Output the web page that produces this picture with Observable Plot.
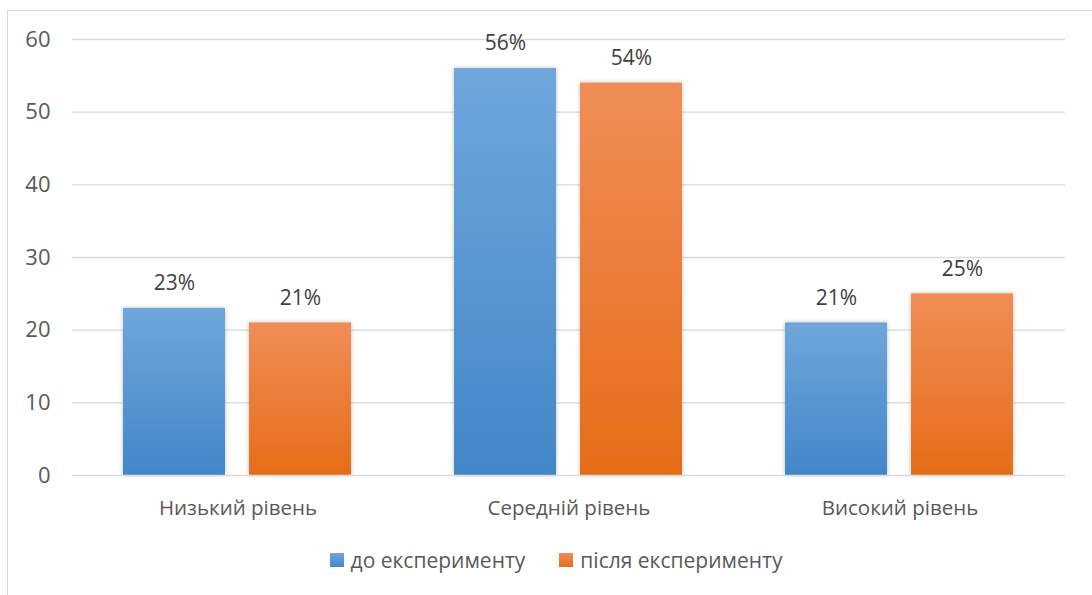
<!DOCTYPE html>
<html>
<head>
<meta charset="utf-8">
<script src="https://cdn.jsdelivr.net/npm/d3@7"></script>
<script src="https://cdn.jsdelivr.net/npm/@observablehq/plot@0.6"></script>
<style>
  html, body { margin: 0; padding: 0; background: #fff; }
  body { width: 1092px; height: 595px; position: relative; overflow: hidden; font-family: "Open Sans", sans-serif; }
  #frame { position: absolute; left: 7px; top: 10px; width: 1200px; height: 700px; border-left: 1.5px solid #d9d9d9; border-top: 1.5px solid #d9d9d9; }
  #chart { position: absolute; left: 0; top: 0; }
  #legend { position: absolute; top: 546px; left: 0; width: 1112px; display: flex; justify-content: center; gap: 34px; font-size: 21px; color: #595959; }
  .item { display: flex; align-items: center; gap: 7px; }
  .sw { width: 14px; height: 14px; display: inline-block; }
</style>
</head>
<body>
<div id="frame"></div>
<div id="chart"></div>
<div id="legend"></div>
<script>
const categories = ["Низький рівень", "Середній рівень", "Високий рівень"];
const series = ["до експерименту", "після експерименту"];
const before = [23, 56, 21];
const after = [21, 54, 25];
const yTicks = [0, 10, 20, 30, 40, 50, 60];

const data = [];
categories.forEach((c, i) => {
  data.push({category: c, series: series[0], value: before[i]});
  data.push({category: c, series: series[1], value: after[i]});
});

const gradIds = {"до експерименту": "url(#gBlue)", "після експерименту": "url(#gOrange)"};

const chart = Plot.plot({
  width: 1092,
  height: 530,
  marginLeft: 71,
  marginRight: 26,
  marginTop: 39,
  marginBottom: 55,
  style: {fontFamily: "Open Sans, sans-serif", color: "#595959", background: "transparent"},
  fx: {domain: categories, padding: 0, label: null},
  x: {domain: series, paddingInner: 0.189, paddingOuter: 0.4, axis: null},
  y: {domain: [0, 60], label: null},
  marks: [
    Plot.ruleY(yTicks.filter(d => d > 0), {stroke: "#d9d9d9", strokeWidth: 1.3}),
    Plot.axisY(yTicks, {tickSize: 0, tickPadding: 22, fontSize: 22, fill: "#595959", label: null}),
    Plot.axisFx({anchor: "bottom", tickSize: 0, tickPadding: 25, fontSize: 20.5, fill: "#595959", label: null}),
    Plot.barY(data, {fx: "category", x: "series", y: "value", fill: d => gradIds[d.series]}),
    Plot.ruleY([0], {stroke: "#d9d9d9", strokeWidth: 1.5}),
    Plot.text(data, {fx: "category", x: "series", y: "value", text: d => d.value + "%", dy: -25, fill: "#404040", fontSize: 21})
  ]
});

// gradients & shadow
const svg = d3.select(chart);
const defs = svg.insert("defs", ":first-child");
function grad(id, top, bottom) {
  const g = defs.append("linearGradient").attr("id", id).attr("x1", 0).attr("y1", 0).attr("x2", 0).attr("y2", 1);
  g.append("stop").attr("offset", "0%").attr("stop-color", top);
  g.append("stop").attr("offset", "100%").attr("stop-color", bottom);
}
grad("gBlue", "#6fa6dc", "#4287c8");
grad("gOrange", "#f08d57", "#e66c17");
const f = defs.append("filter").attr("id", "shadow").attr("x", "-10%").attr("y", "-10%").attr("width", "120%").attr("height", "120%");
f.append("feDropShadow").attr("dx", 0).attr("dy", 0).attr("stdDeviation", 2).attr("flood-color", "#000").attr("flood-opacity", 0.25);
svg.selectAll("g[aria-label='bar'] rect").attr("filter", "url(#shadow)");

document.getElementById("chart").appendChild(chart);

const legend = document.getElementById("legend");
const swatchGrad = ["linear-gradient(#6fa6dc, #4287c8)", "linear-gradient(#f08d57, #e66c17)"];
series.forEach((s, i) => {
  const item = document.createElement("div");
  item.className = "item";
  const sw = document.createElement("span");
  sw.className = "sw";
  sw.style.background = swatchGrad[i];
  const t = document.createElement("span");
  t.textContent = s;
  item.appendChild(sw); item.appendChild(t);
  legend.appendChild(item);
});
</script>
</body>
</html>
